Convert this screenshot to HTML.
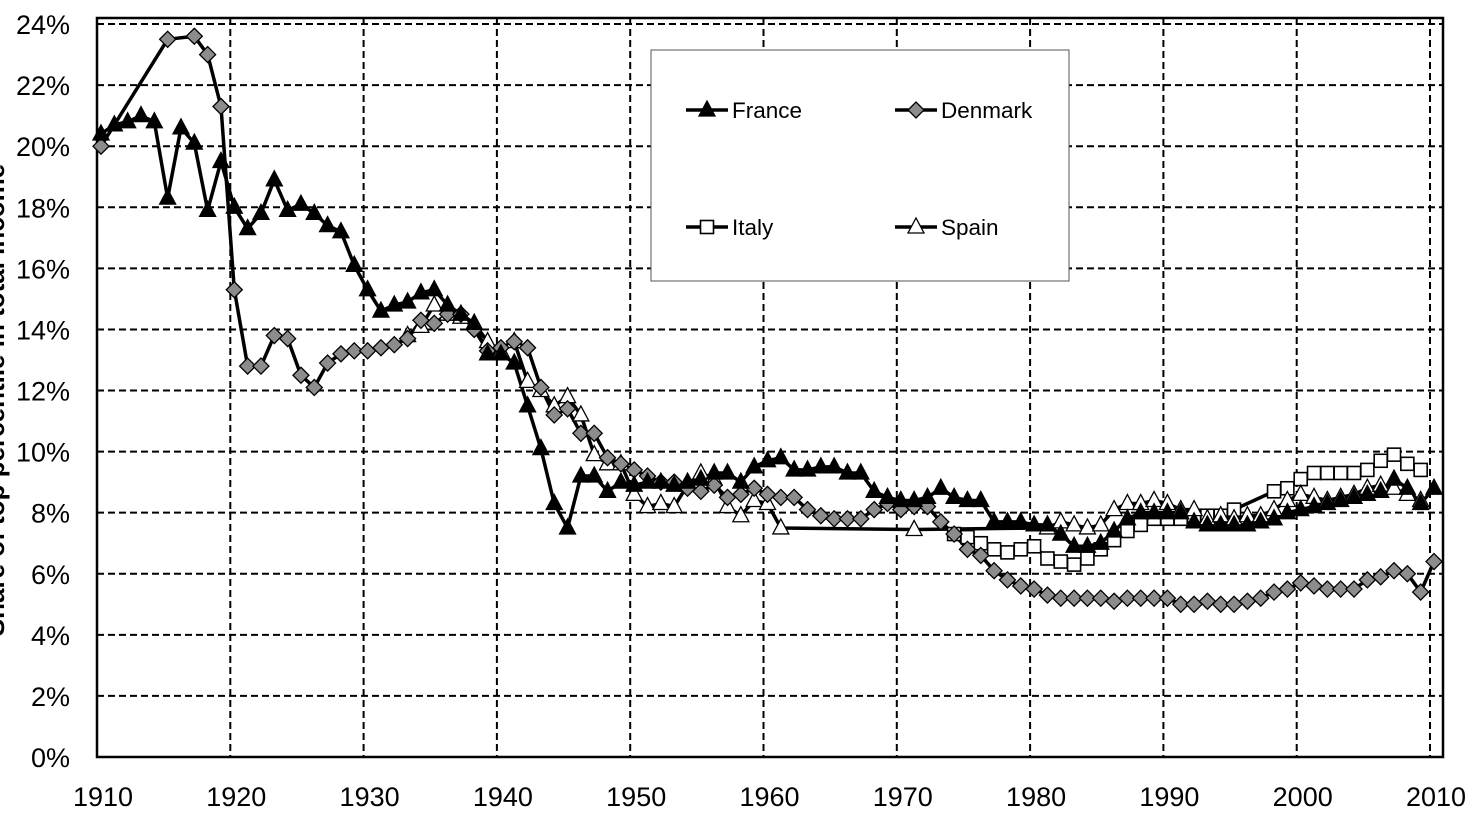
<!DOCTYPE html>
<html><head><meta charset="utf-8"><style>
html,body{margin:0;padding:0;background:#fff;}
svg{display:block;font-family:"Liberation Sans",Arial,sans-serif;}
</style></head><body>
<svg id="c" width="1480" height="814" xmlns="http://www.w3.org/2000/svg"></svg>
<script>
const s=document.getElementById('c');
const GX=y=>97+(y-1910)*13.33, X=y=>GX(y)+4, Y=p=>757-p*30.54;
let h='';
for(let i=1;i<=12;i++){h+=`<line x1="97" x2="1443" y1="${Y(i*2)}" y2="${Y(i*2)}" stroke="#000" stroke-width="2" stroke-dasharray="7,4"/>`;}
for(let yr=1920;yr<=2010;yr+=10){h+=`<line x1="${GX(yr)}" x2="${GX(yr)}" y1="18" y2="757" stroke="#000" stroke-width="2" stroke-dasharray="7,4"/>`;}
h+=`<rect x="97" y="18" width="1346" height="739" fill="none" stroke="#000" stroke-width="2.5"/>`;
for(let i=0;i<=12;i++){h+=`<text x="70" y="${Y(i*2)+10}" font-size="27" text-anchor="end">${i*2}%</text>`;}
for(let yr=1910;yr<=2010;yr+=10){h+=`<text x="${GX(yr)+6}" y="806" font-size="27" text-anchor="middle">${yr}</text>`;}
h+=`<text transform="translate(4,400) rotate(-90)" font-size="26" font-weight="bold" text-anchor="middle">Share of top percentile in total income</text>`;
function ser(start,vals){return vals.map((v,i)=>v==null?null:[X(start+i),Y(v)]).filter(p=>p);}
const fr=ser(1910,[20.4,20.7,20.8,21.0,20.8,18.3,20.6,20.1,17.9,19.5,18.0,17.3,17.8,18.9,17.9,18.1,17.8,17.4,17.2,16.1,15.3,14.6,14.8,14.9,15.2,15.3,14.8,14.5,14.2,13.2,13.2,12.9,11.5,10.1,8.3,7.5,9.2,9.2,8.7,9.0,8.9,9.0,9.0,8.9,9.0,9.1,9.3,9.3,9.0,9.5,9.7,9.8,9.4,9.4,9.5,9.5,9.3,9.3,8.7,8.5,8.4,8.4,8.5,8.8,8.5,8.4,8.4,7.7,7.7,7.7,7.6,7.6,7.3,6.9,6.9,7.0,7.4,7.8,8.0,8.0,8.0,8.0,7.7,7.6,7.6,7.6,7.6,7.7,7.8,8.0,8.1,8.2,8.3,8.4,8.5,8.6,8.7,9.1,8.8,8.3,8.8]);
const dk=[[1910,20.0],[1915,23.5],[1917,23.6],[1918,23.0],[1919,21.3]].map(a=>[X(a[0]),Y(a[1])]).concat(ser(1920,[15.3,12.8,12.8,13.8,13.7,12.5,12.1,12.9,13.2,13.3,13.3,13.4,13.5,13.7,14.3,14.2,14.5,14.5,14.0,13.3,13.4,13.6,13.4,12.1,11.2,11.4,10.6,10.6,9.8,9.6,9.4,9.2,9.0,9.0,8.8,8.7,8.9,8.5,8.6,8.8,8.6,8.5,8.5,8.1,7.9,7.8,7.8,7.8,8.1,8.3,8.1,8.2,8.2,7.7,7.3,6.8,6.6,6.1,5.8,5.6,5.5,5.3,5.2,5.2,5.2,5.2,5.1,5.2,5.2,5.2,5.2,5.0,5.0,5.1,5.0,5.0,5.1,5.2,5.4,5.5,5.7,5.6,5.5,5.5,5.5,5.8,5.9,6.1,6.0,5.4,6.4]));
const sp=ser(1933,[13.8,14.1,14.8,14.5,14.4,14.2,13.6,13.3,13.6,12.3,12.0,11.5,11.8,11.2,9.9,9.6,9.6,8.6,8.2,8.3,8.2,8.9,9.3,9.1,8.2,7.9,8.4,8.3,7.5]).concat([[X(1971),Y(7.45)]]).concat(ser(1981,[7.5,7.7,7.6,7.5,7.6,8.1,8.3,8.3,8.4,8.3,8.1,8.1,7.8,7.9,7.8,7.9,7.9,8.1,8.4,8.6,8.5,8.4,8.5,8.6,8.8,8.9,8.8,8.6,8.4]));
const it=ser(1974,[7.3,7.2,7.0,6.8,6.7,6.8,6.9,6.5,6.4,6.3,6.5,6.8,7.1,7.4,7.6,7.8,7.8,7.8,7.9,7.9,7.9,8.1]).concat(ser(1998,[8.7,8.8,9.1,9.3,9.3,9.3,9.3,9.4,9.7,9.9,9.6,9.4]));
function line(p){return `<polyline points="${p.map(a=>a.join(',')).join(' ')}" fill="none" stroke="#000" stroke-width="3.5" stroke-linejoin="round"/>`;}
function tri(x,y,f){return `<polygon points="${x},${y-9} ${x-8},${y+6} ${x+8},${y+6}" fill="${f}" stroke="#000" stroke-width="1.3"/>`;}
function dia(x,y){return `<polygon points="${x},${y-8} ${x+8},${y} ${x},${y+8} ${x-8},${y}" fill="#8c8c8c" stroke="#000" stroke-width="1.3"/>`;}
function sq(x,y){return `<rect x="${x-6.5}" y="${y-6.5}" width="13" height="13" fill="#fff" stroke="#000" stroke-width="1.6"/>`;}
h+=line(it)+line(sp)+line(dk)+line(fr);
it.forEach(p=>h+=sq(p[0],p[1]));
sp.forEach(p=>h+=tri(p[0],p[1],'#fff'));
dk.forEach(p=>h+=dia(p[0],p[1]));
fr.forEach(p=>h+=tri(p[0],p[1],'#000'));
h+=`<rect x="651" y="50" width="418" height="231" fill="#fff" stroke="#555" stroke-width="1"/>`;
h+=`<line x1="686" x2="728" y1="110" y2="110" stroke="#000" stroke-width="3.5"/>`+tri(707,110,'#000')+`<text x="732" y="118" font-size="22.5">France</text>`;
h+=`<line x1="895" x2="937" y1="110" y2="110" stroke="#000" stroke-width="3.5"/>`+dia(916,110)+`<text x="941" y="118" font-size="22.5">Denmark</text>`;
h+=`<line x1="686" x2="728" y1="227" y2="227" stroke="#000" stroke-width="3.5"/>`+sq(707,227)+`<text x="732" y="235" font-size="22.5">Italy</text>`;
h+=`<line x1="895" x2="937" y1="227" y2="227" stroke="#000" stroke-width="3.5"/>`+tri(916,227,'#fff')+`<text x="941" y="235" font-size="22.5">Spain</text>`;
s.innerHTML=h;
</script>
</body></html>
